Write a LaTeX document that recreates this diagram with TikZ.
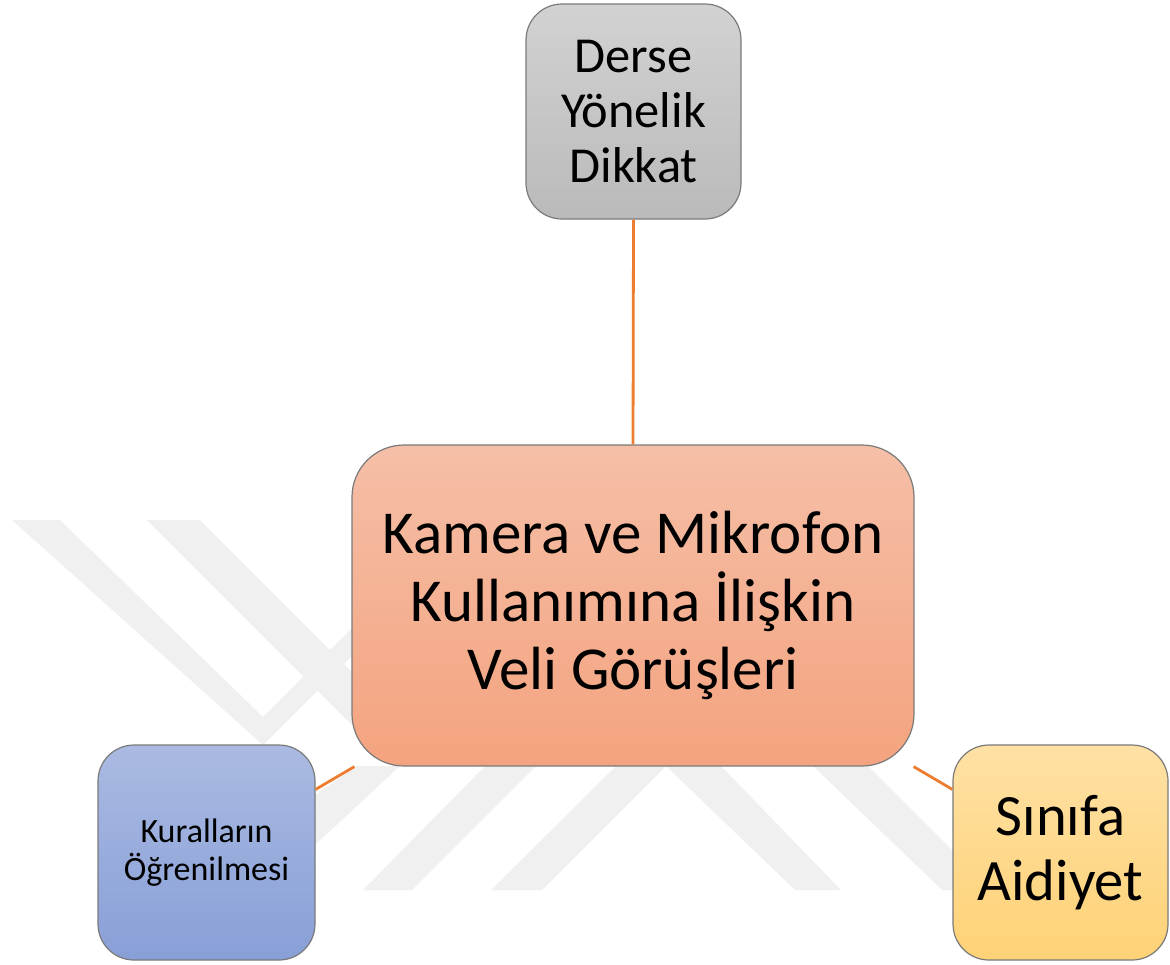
\documentclass[tikz,border=0pt]{standalone}
\usepackage{fontspec}
\setmainfont{Carlito}
\usetikzlibrary{calc}
\definecolor{conn}{HTML}{ED7D31}
\definecolor{wm}{HTML}{F0F0F0}
\definecolor{grayT}{HTML}{D2D2D2}
\definecolor{grayB}{HTML}{BABABA}
\definecolor{salT}{HTML}{F5BFA7}
\definecolor{salB}{HTML}{F4A37F}
\definecolor{bluT}{HTML}{AABAE2}
\definecolor{bluB}{HTML}{889FD7}
\definecolor{yelT}{HTML}{FFE1A5}
\definecolor{yelB}{HTML}{FED276}
\definecolor{edge}{HTML}{7A7A7A}
\tikzset{
  box/.style={draw=edge, line width=0.6pt, align=center, inner sep=0pt, text=black},
  smallbox/.style={box, rounded corners=18pt, minimum width=107.5pt, minimum height=107.5pt},
  bigbox/.style={box, rounded corners=26pt, minimum width=281pt, minimum height=160.5pt},
  link/.style={draw=conn, line width=1.4pt},
  wmark/.style={fill=wm, draw=none}
}
\begin{document}
\begin{tikzpicture}[x=0.5pt,y=-0.5pt]
\useasboundingbox (0,0) rectangle (1170,964);
% faint watermark
\fill[wmark] (12,520) -- (60,520) -- (263,717) -- (352,628) -- (352,656) -- (263,745) -- cycle;
\fill[wmark] (147,520) -- (200,520) -- (352,672) -- (352,725) -- cycle;
\fill[wmark] (315,795) -- (357,766) -- (400,766) -- (315,845) -- cycle;
\fill[wmark] (363,890) -- (412,890) -- (536,766) -- (485,766) -- cycle;
\fill[wmark] (491,890) -- (542,890) -- (666,766) -- (616,766) -- cycle;
\fill[wmark] (666,766) -- (721,766) -- (841,890) -- (795,890) -- cycle;
\fill[wmark] (813,766) -- (868,766) -- (992,890) -- (942,890) -- cycle;
% nodes
\node[smallbox, top color=grayT, bottom color=grayB,
      font=\fontsize{25.2pt}{27.5pt}\selectfont] (top) at (633.5,111.5) {Derse\\Yönelik\\Dikkat};
\node[bigbox, top color=salT, bottom color=salB,
      font=\fontsize{30.5pt}{33.8pt}\selectfont] (cen) at (633,605.5) {Kamera ve Mikrofon\\Kullanımına İlişkin\\Veli Görüşleri};
\node[smallbox, minimum width=108.5pt, top color=bluT, bottom color=bluB,
      font=\fontsize{17pt}{18.7pt}\selectfont] (lft) at (206.5,852.5) {Kuralların\\Öğrenilmesi};
\node[smallbox, top color=yelT, bottom color=yelB,
      font=\fontsize{29.3pt}{32.5pt}\selectfont] (rgt) at (1060.5,852.5) {Sınıfa\\Aidiyet};
% connectors
\draw[link] (top.south) -- (cen.north);
\draw[link] ($(lft.north east)+(0,45)$) -- ($(cen.south west)+(3,0)$);
\draw[link] ($(cen.south east)+(-1,0)$) -- ($(rgt.north west)+(0,45)$);
\end{tikzpicture}
\end{document}
